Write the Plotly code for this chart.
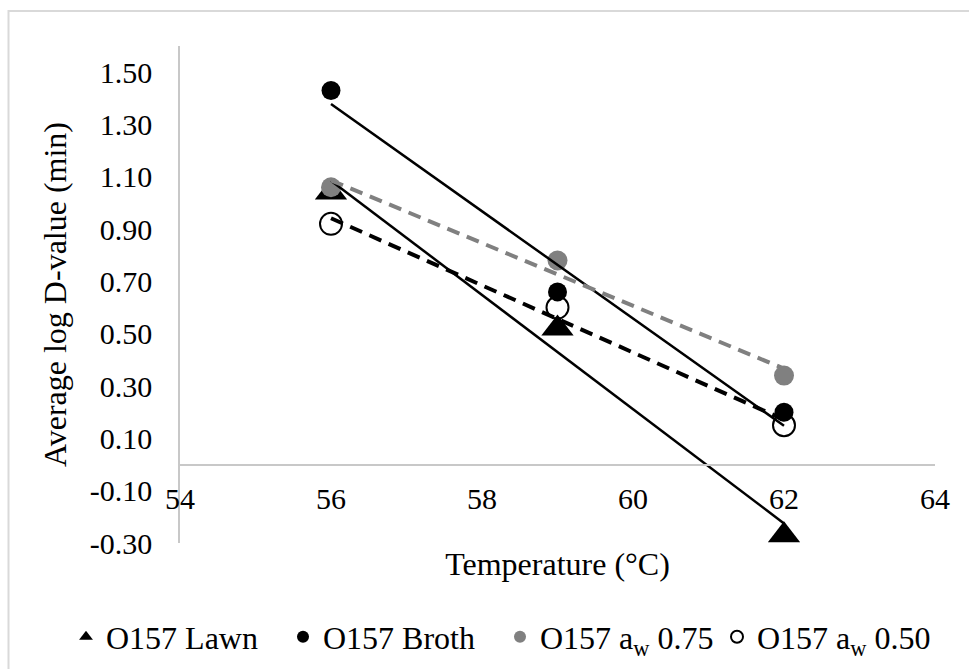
import numpy as np
import plotly.graph_objects as go

# ---- data ----
temps = [56, 59, 62]
lawn = [1.04, 0.52, -0.27]
broth = [1.43, 0.66, 0.20]
aw75 = [1.06, 0.78, 0.34]
aw50 = [0.92, 0.60, 0.15]

names = ["O157 Lawn", "O157 Broth", "O157 a<sub>w</sub> 0.75", "O157 a<sub>w</sub> 0.50"]

y_tickvals = [-0.30, -0.10, 0.10, 0.30, 0.50, 0.70, 0.90, 1.10, 1.30, 1.50]
y_ticktext = ["-0.30", "-0.10", "0.10", "0.30", "0.50", "0.70", "0.90", "1.10", "1.30", "1.50"]
x_tickvals = [54, 56, 58, 60, 62, 64]
x_ticktext = ["54", "56", "58", "60", "62", "64"]

X_RANGE = [54, 64]
Y_RANGE = [-0.3, 1.6]

FONT = "Liberation Serif"
W, H = 969, 669
ML, MR, MT, MB = 180, 34, 46, 126

fig = go.Figure()

marker_styles = [
    dict(symbol="triangle-up", size=28, color="black"),
    dict(symbol="circle", size=19, color="black"),
    dict(symbol="circle", size=20, color="#808080"),
    dict(symbol="circle-open", size=22, color="black", line=dict(width=2, color="black")),
]
series = [lawn, broth, aw75, aw50]

for nm, ys, ms in zip(names, series, marker_styles):
    fig.add_trace(go.Scatter(x=temps, y=ys, mode="markers", name=nm, marker=ms,
                             cliponaxis=False))

line_styles = [
    dict(color="black", width=2.5),
    dict(color="black", width=2.5),
    dict(color="#808080", width=4, dash="13px,8px"),
    dict(color="black", width=4, dash="13px,8px"),
]
xs = np.array(temps, dtype=float)
for ys, ls in zip(series, line_styles):
    k, b = np.polyfit(xs, np.array(ys, dtype=float), 1)
    xe = np.array([xs.min(), xs.max()])
    fig.add_trace(go.Scatter(x=xe, y=k * xe + b, mode="lines", line=ls,
                             showlegend=False, hoverinfo="skip", cliponaxis=False))

plot_w = W - ML - MR
plot_h = H - MT - MB


def px_to_paper_x(px):
    return (px - ML) / plot_w


def px_to_paper_y(py):
    return (H - MB - py) / plot_h


zero_pos = (0 - Y_RANGE[0]) / (Y_RANGE[1] - Y_RANGE[0])

tick_font = dict(family=FONT, size=30, color="black")
title_font = dict(family=FONT, size=32, color="black")

fig.update_layout(
    width=W, height=H,
    margin=dict(l=ML, r=MR, t=MT, b=MB, autoexpand=False),
    paper_bgcolor="white", plot_bgcolor="white",
    font=dict(family=FONT, color="black", size=30),
    xaxis=dict(range=X_RANGE, tickvals=x_tickvals, ticktext=x_ticktext,
               showgrid=False, zeroline=False, showline=True,
               linecolor="#c8c8c8", linewidth=1.5, ticks="",
               anchor="free", position=zero_pos, ticklabelstandoff=8,
               tickfont=tick_font, automargin=False,
               title=dict(text="Temperature (°C)", font=title_font, standoff=37)),
    yaxis=dict(range=Y_RANGE, tickvals=y_tickvals, ticktext=y_ticktext,
               showgrid=False, zeroline=False, showline=True,
               linecolor="#c8c8c8", linewidth=1.5, ticks="",
               ticklabelstandoff=20, tickfont=tick_font, automargin=False,
               title=dict(text="Average log D-value (min)", font=title_font, standoff=14)),
    legend=dict(orientation="h", x=px_to_paper_x(66), xanchor="left",
                y=px_to_paper_y(637), yanchor="middle",
                font=dict(family=FONT, size=32, color="black"),
                entrywidth=172, entrywidthmode="pixels",
                itemsizing="constant", bgcolor="rgba(0,0,0,0)"),
    showlegend=True,
    shapes=[dict(type="rect", xref="paper", yref="paper",
                 x0=px_to_paper_x(8.5), x1=px_to_paper_x(990),
                 y0=px_to_paper_y(700), y1=px_to_paper_y(11),
                 line=dict(color="#d9d9d9", width=2), layer="below")],
)

fig.write_html("out.html")
